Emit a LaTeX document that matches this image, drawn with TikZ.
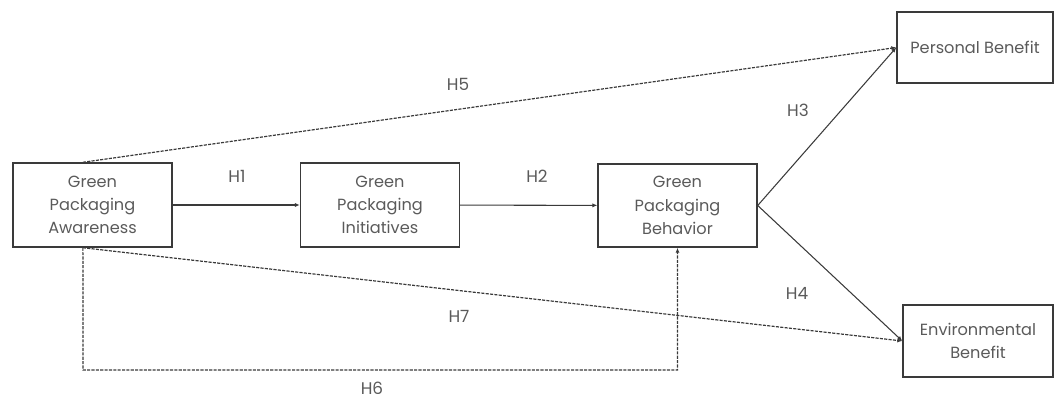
\documentclass[tikz,border=0pt]{standalone}
\usepackage{fontspec}
\setmainfont{Poppins}
\usetikzlibrary{arrows.meta}
\definecolor{txt}{HTML}{5A5A5A}
\definecolor{ln}{HTML}{3A3A3A}
\tikzset{
  box/.style={draw=ln, line width=1pt, minimum width=#1, align=center, inner sep=0pt, text=txt, font=\fontsize{11.5}{16.5}\selectfont},
  conn/.style={draw=ln, line width=0.75pt, -{Latex[length=3.5pt,width=3pt]}},
  dconn/.style={conn, line width=0.85pt, dash pattern=on 2.2pt off 0.9pt},
  lbl/.style={text=txt, font=\fontsize{12}{14}\selectfont, inner sep=0pt}
}
\begin{document}
\begin{tikzpicture}[x=0.025cm,y=-0.025cm]
\useasboundingbox (0,0) rectangle (1055,399);
\node[box=3.975cm, minimum height=2.1cm] (aw) at (92.5,205) {Green\\Packaging\\Awareness};
\node[box=3.975cm, minimum height=2.1cm] (in) at (380,205) {Green\\Packaging\\Initiatives};
\node[box=3.975cm, minimum height=2.08cm] (be) at (677.5,205.5) {Green\\Packaging\\Behavior};
\node[box=3.9cm, minimum height=1.775cm] (pb) at (975,47.5) {Personal Benefit};
\node[box=3.75cm, minimum height=1.8cm] (eb) at (978,341) {Environmental\\Benefit};
\coordinate (awt) at ([xshift=-0.24cm]aw.north);
\coordinate (awb) at ([xshift=-0.24cm]aw.south);
\coordinate (h6l) at (83,370);
\draw[conn] (aw) -- (in);
\draw[conn] (in) -- (be);
\draw[conn] (be.east) -- (pb.west);
\draw[conn] (be.east) -- (eb.west);
\draw[dconn] (awt) -- (pb.west);
\draw[dconn] (awb) -- (eb.west);
\draw[dconn] (awb) -- (h6l) -| (be.south);
\node[lbl] (l1) at (237,176) {H1};
\node[lbl] (l2) at (537,176) {H2};
\node[lbl] (l3) at (798,110) {H3};
\node[lbl] (l4) at (797,293) {H4};
\node[lbl] (l5) at (458,84) {H5};
\node[lbl] (l7) at (459,316) {H7};
\node[lbl] (l6) at (372,388) {H6};
\end{tikzpicture}
\end{document}
